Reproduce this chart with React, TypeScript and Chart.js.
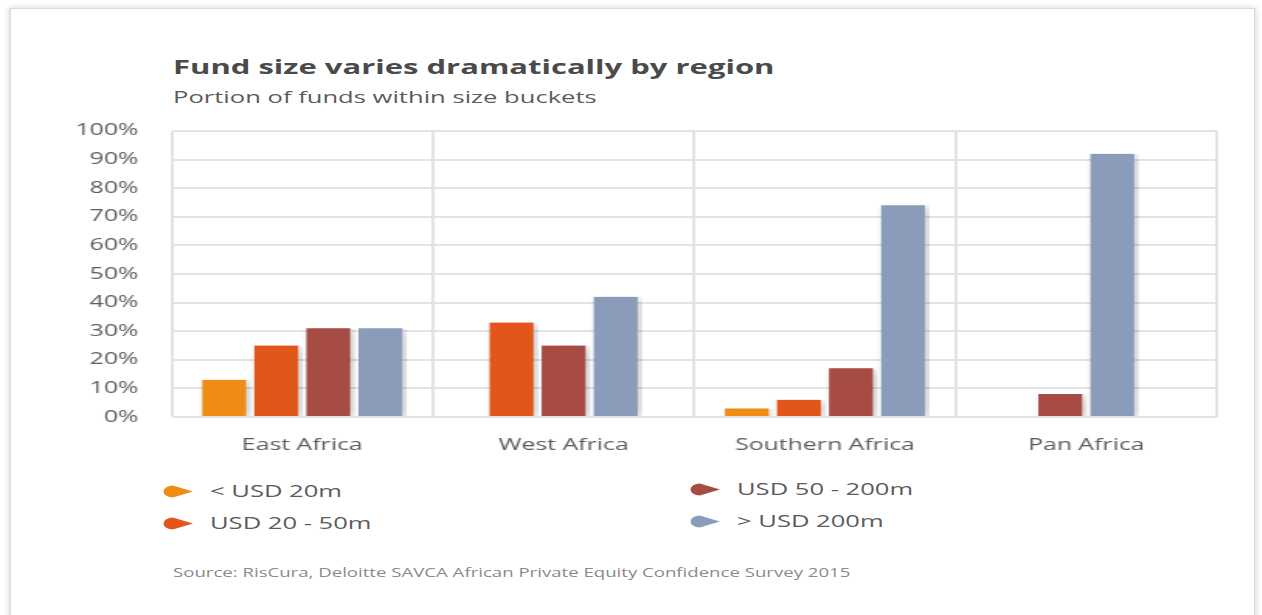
import React, { useEffect, useRef } from 'react';
import { Chart, registerables } from 'chart.js';

Chart.register(...registerables);

// ---- data ----
const regions = ['East Africa', 'West Africa', 'Southern Africa', 'Pan Africa'];
const seriesNames = ['< USD 20m', 'USD 20 - 50m', 'USD 50 - 200m', '> USD 200m'];
const under20m = [13, null, 3, null];
const usd20to50m = [25, 33, 6, null];
const usd50to200m = [31, 25, 17, 8];
const over200m = [31, 42, 74, 92];
const seriesColors = ['#EE8C16', '#E2561A', '#A64C45', '#8B9CBB'];
const title = 'Fund size varies dramatically by region';
const subtitle = 'Portion of funds within size buckets';
const source = 'Source: RisCura, Deloitte SAVCA African Private Equity Confidence Survey 2015';

// horizontal stretch of the original picture
const S = 1.55;
const FONT = '"Open Sans", "DejaVu Sans", sans-serif';
const TEXT = '#5c5c5c';
const GRID = '#e3e3e3';

const shadowPlugin = {
  id: 'barShadow',
  beforeDatasetsDraw(chart: any) {
    const c = chart.ctx;
    c.save();
    c.shadowColor = 'rgba(0,0,0,0.2)';
    c.shadowBlur = 10;
    c.shadowOffsetX = 4;
    c.shadowOffsetY = 2;
  },
  afterDatasetsDraw(chart: any) {
    chart.ctx.restore();
  },
};

function Marker({ color }: { color: string }) {
  return (
    <svg width={20} height={13} viewBox="0 0 20 13" style={{ display: 'block' }}>
      <path d="M 6.5 0.5 L 19.5 6.5 L 6.5 12.5 A 6 6 0 0 1 6.5 0.5 Z" fill={color} />
    </svg>
  );
}

function ChartCanvas() {
  const ref = useRef<HTMLCanvasElement | null>(null);
  useEffect(() => {
    if (!ref.current) return;
    const all = [under20m, usd20to50m, usd50to200m, over200m];
    const chart = new Chart(ref.current, {
      type: 'bar',
      data: {
        labels: regions,
        datasets: all.map((d, i) => ({
          label: seriesNames[i],
          data: d,
          backgroundColor: seriesColors[i],
          borderColor: 'rgba(0,0,0,0)',
          borderWidth: { left: 4.6 / S, right: 4.6 / S, top: 0, bottom: 0 },
          borderSkipped: false,
          barThickness: 52 / S,
          skipNull: true,
        })) as any,
      },
      options: {
        animation: false,
        responsive: true,
        maintainAspectRatio: false,
        layout: { padding: { top: 12, right: 15 / S, left: 0, bottom: 0 } },
        plugins: { legend: { display: false }, tooltip: { enabled: false } },
        scales: {
          x: {
            grid: { color: GRID, lineWidth: 2, drawTicks: false, offset: true },
            border: { display: false },
            ticks: { padding: 19, color: TEXT, font: { family: FONT, size: 16 } },
            afterFit: (a: any) => { a.height = 53; },
          },
          y: {
            min: 0,
            max: 100,
            grid: { color: GRID, lineWidth: 2, drawTicks: false },
            border: { display: false },
            ticks: {
              stepSize: 10,
              padding: 33 / S,
              color: TEXT,
              font: { family: FONT, size: 16 },
              callback: (v: any) => v + '%',
            },
            afterFit: (a: any) => { a.width = 111 / S; },
          },
        },
      },
      plugins: [shadowPlugin],
    });
    return () => chart.destroy();
  }, []);
  return <canvas ref={ref} />;
}

export default function App() {
  const legendPos = [
    { mx: 162, tx: 210, cy: 491 },
    { mx: 162, tx: 210, cy: 523 },
    { mx: 690, tx: 737, cy: 489 },
    { mx: 690, tx: 737, cy: 521 },
  ];
  return (
    <div
      style={{
        position: 'absolute',
        left: 0,
        top: 0,
        width: 1262 / S,
        height: 615,
        overflow: 'hidden',
        background: '#ffffff',
        transform: `scaleX(${S})`,
        transformOrigin: '0 0',
        fontFamily: FONT,
      }}
    >
      <div
        style={{
          position: 'absolute',
          left: 10 / S,
          top: 8,
          width: 1242 / S,
          height: 700,
          border: '1px solid #dadada',
          boxShadow: '0 0 5px rgba(0,0,0,0.16)',
          background: '#fff',
        }}
      />
      <div
        style={{
          position: 'absolute',
          left: 173 / S,
          top: 54,
          fontSize: 20,
          lineHeight: '26px',
          fontWeight: 700,
          color: '#4a4a4a',
          whiteSpace: 'nowrap',
        }}
      >
        {title}
      </div>
      <div
        style={{
          position: 'absolute',
          left: 173 / S,
          top: 86,
          fontSize: 16.5,
          lineHeight: '22px',
          color: TEXT,
          whiteSpace: 'nowrap',
        }}
      >
        {subtitle}
      </div>
      <div style={{ position: 'absolute', left: 60 / S, top: 100, width: 1170 / S, height: 370 }}>
        <ChartCanvas />
      </div>
      {seriesNames.map((n, i) => (
        <React.Fragment key={n}>
          <div style={{ position: 'absolute', left: legendPos[i].mx / S, top: legendPos[i].cy - 6.5 }}>
            <Marker color={seriesColors[i]} />
          </div>
          <div
            style={{
              position: 'absolute',
              left: legendPos[i].tx / S,
              top: legendPos[i].cy - 11,
              fontSize: 16.5,
              lineHeight: '22px',
              color: TEXT,
              whiteSpace: 'nowrap',
            }}
          >
            {n}
          </div>
        </React.Fragment>
      ))}
      <div
        style={{
          position: 'absolute',
          left: 173 / S,
          top: 565,
          fontSize: 12,
          lineHeight: '16px',
          color: '#8a8a8a',
          whiteSpace: 'nowrap',
        }}
      >
        {source}
      </div>
    </div>
  );
}
